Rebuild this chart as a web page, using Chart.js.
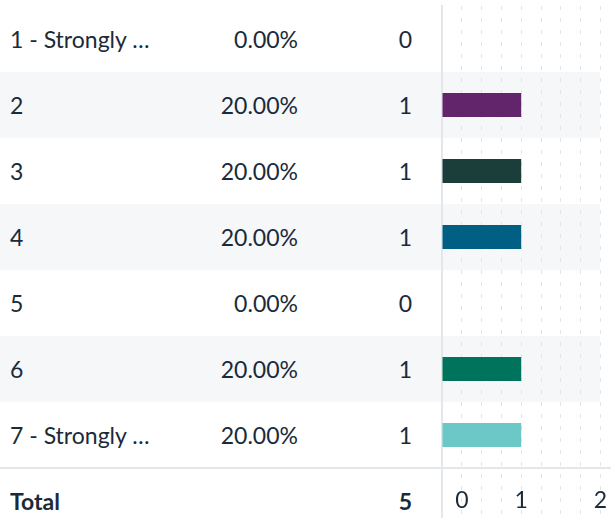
<!DOCTYPE html>
<html>
<head>
<meta charset="utf-8">
<script src="https://cdn.jsdelivr.net/npm/chart.js@4/dist/chart.umd.min.js"></script>
<style>
  html, body { margin: 0; padding: 0; width: 611px; height: 518px; overflow: hidden; background: #fff; }
  body { position: relative; font-family: Lato, sans-serif; color: #1b2a38; }
  #rows { position: absolute; left: 0; top: 6px; width: 600px; }
  .row { position: relative; height: 66px; font-size: 23px; }
  .row.alt { background: #f6f7f9; }
  .row.total { font-weight: bold; }
  .row span { position: absolute; top: 0; line-height: 66px; white-space: nowrap; }
  .lbl { left: 10px; }
  .pct { right: 302px; }
  .cnt { right: 188px; }
  #sep { position: absolute; left: 0; top: 467px; width: 611px; height: 2px; background: #e3e6ea; }
  #wrap { position: absolute; left: 0; top: 0; width: 640px; height: 534px; pointer-events: none; }
</style>
</head>
<body>
<div id="rows"></div>
<div id="sep"></div>
<div id="wrap"><canvas id="myChart"></canvas></div>
<script>
// данные с картинки
const answers = ['1 - Strongly …', '2', '3', '4', '5', '6', '7 - Strongly …'];
const percents = ['0.00%', '20.00%', '20.00%', '20.00%', '0.00%', '20.00%', '20.00%'];
const counts = [0, 1, 1, 1, 0, 1, 1];
const totalLabel = 'Total';
const totalCount = 5;
const barColors = ['#62246a', '#62246a', '#1b3e3b', '#005f82', '#005f82', '#00735d', '#6bc8c6'];
const xTickLabels = ['0', '1', '2'];

const textColor = '#1b2a38';
const lineColor = '#e3e6ea';
const dashColor = '#e4e4e4';

// таблица слева
const rows = document.getElementById('rows');
function addRow(cells, cls) {
    const row = document.createElement('div');
    row.className = 'row' + cls;
    row.innerHTML = '<span class="lbl"></span><span class="pct"></span><span class="cnt"></span>';
    cells.forEach(function (text, k) { row.children[k].textContent = text; });
    rows.appendChild(row);
}
answers.forEach(function (name, i) {
    addRow([name, percents[i], counts[i]], i % 2 === 1 ? ' alt' : '');
});
addRow([totalLabel, '', totalCount], ' total');

// подпись "0" стоит на первой четверти шкалы, чтобы не налезать на ось
function tickText(value) {
    if (value === 0.25) return xTickLabels[0];
    if (value === 1) return xTickLabels[1];
    if (value === 2) return xTickLabels[2];
    return '';
}

const ctx = document.getElementById('myChart').getContext('2d');
const myChart = new Chart(ctx, {
    type: 'bar',
    data: {
        labels: answers.concat([totalLabel]), // строка Total тоже занимает место по высоте
        datasets: [{
            data: counts,
            backgroundColor: barColors,
            borderWidth: 0,
            inflateAmount: 0,
            barThickness: 24
        }]
    },
    options: {
        indexAxis: 'y',
        responsive: true,
        maintainAspectRatio: false,
        animation: false,
        layout: { padding: { left: 442, top: 6, right: 0, bottom: 0 } },
        plugins: { legend: { display: false }, tooltip: { enabled: false } },
        scales: {
            x: {
                type: 'linear',
                position: { y: 6.5 }, // ось между последним ответом и Total
                min: 0,
                max: 2.5,
                border: { display: false, dash: [4, 8] },
                grid: {
                    color: c => c.tick && c.tick.value === 0 ? 'transparent' : dashColor,
                    lineWidth: 1,
                    drawTicks: true,
                    tickLength: 19,
                    tickColor: 'transparent'
                },
                ticks: {
                    stepSize: 0.25,
                    autoSkip: false,
                    maxRotation: 0,
                    padding: 0,
                    color: textColor,
                    font: { family: 'Lato', size: 23 },
                    callback: tickText
                }
            },
            y: {
                grid: { display: true, drawOnChartArea: false, drawTicks: false, color: 'transparent' },
                border: { display: true, color: lineColor, width: 2 },
                ticks: { display: false }
            }
        }
    }
});
</script>
</body>
</html>
